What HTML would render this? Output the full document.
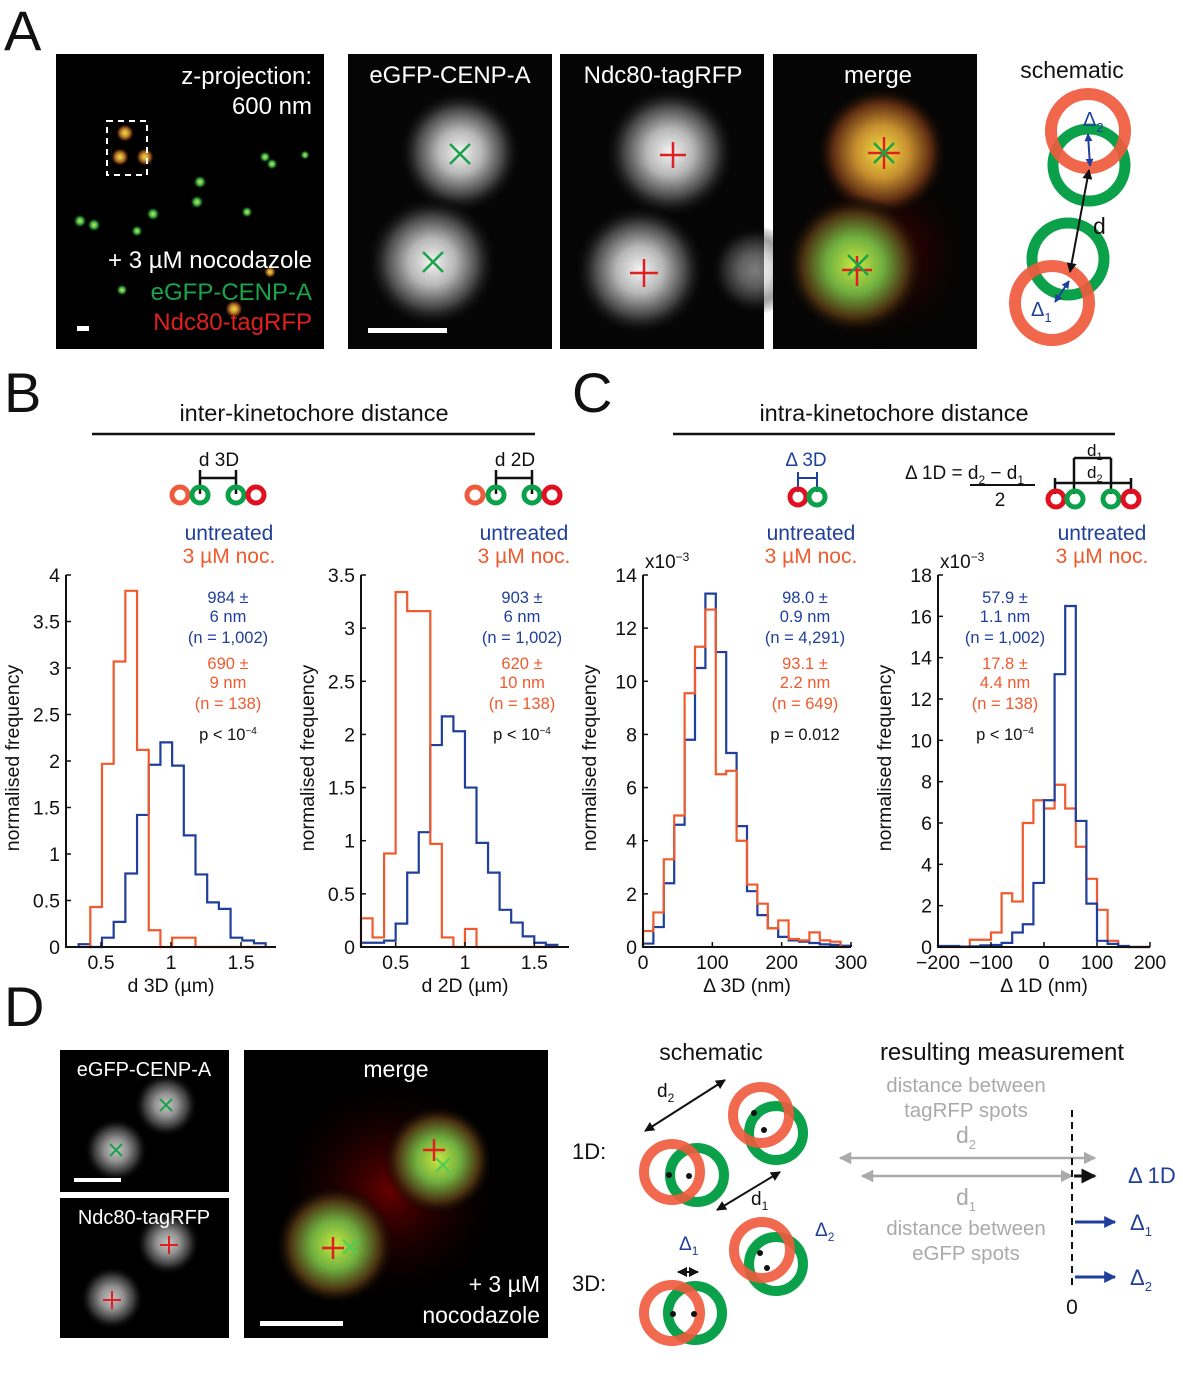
<!DOCTYPE html>
<html><head><meta charset="utf-8">
<style>
html,body{margin:0;padding:0;background:#fff;}
svg{display:block;font-family:"Liberation Sans",Arial,sans-serif;}
</style></head>
<body>
<svg id="fig" width="1183" height="1389" viewBox="0 0 1183 1389" xmlns="http://www.w3.org/2000/svg">
<defs>
<radialGradient id="gw" cx="50%" cy="50%" r="50%"><stop offset="0" stop-color="#f4f4f4"/><stop offset="0.35" stop-color="#b8b8b8"/><stop offset="0.7" stop-color="#444"/><stop offset="1" stop-color="#000" stop-opacity="0"/></radialGradient>
<radialGradient id="gy" cx="50%" cy="50%" r="50%"><stop offset="0" stop-color="#f0e040"/><stop offset="0.4" stop-color="#c89030"/><stop offset="0.75" stop-color="#5a2a10"/><stop offset="1" stop-color="#000" stop-opacity="0"/></radialGradient>
<radialGradient id="gg" cx="50%" cy="50%" r="50%"><stop offset="0" stop-color="#c8e840"/><stop offset="0.4" stop-color="#70b040"/><stop offset="0.75" stop-color="#4a3010"/><stop offset="1" stop-color="#000" stop-opacity="0"/></radialGradient>
<radialGradient id="gd" cx="50%" cy="50%" r="50%"><stop offset="0" stop-color="#d0f060"/><stop offset="0.5" stop-color="#30a040"/><stop offset="1" stop-color="#000" stop-opacity="0"/></radialGradient>
<radialGradient id="gr" cx="50%" cy="50%" r="50%"><stop offset="0" stop-color="#600"/><stop offset="1" stop-color="#000" stop-opacity="0"/></radialGradient>
<marker id="ak" viewBox="0 0 10 10" refX="9" refY="5" markerWidth="5" markerHeight="5" orient="auto-start-reverse"><path d="M0,0L10,5L0,10z" fill="#111"/></marker>
<marker id="ab" viewBox="0 0 10 10" refX="9" refY="5" markerWidth="4" markerHeight="4" orient="auto-start-reverse"><path d="M0,0L10,5L0,10z" fill="#1f3f9a"/></marker>
<marker id="ag" viewBox="0 0 10 10" refX="9" refY="5" markerWidth="5" markerHeight="5" orient="auto-start-reverse"><path d="M0,0L10,5L0,10z" fill="#aaa"/></marker>
</defs>

<!-- Panel A -->
<text x="4" y="50" font-size="56" fill="#111">A</text>
<g>
<rect x="56" y="54" width="268" height="295" fill="#000"/>
<circle cx="125" cy="133" r="9" fill="url(#gy)"/><circle cx="120" cy="157" r="9" fill="url(#gy)"/><circle cx="145" cy="157" r="9" fill="url(#gy)"/>
<circle cx="265" cy="157" r="6" fill="url(#gd)"/><circle cx="272" cy="164" r="6" fill="url(#gd)"/><circle cx="305" cy="155" r="5" fill="url(#gd)"/><circle cx="200" cy="182" r="7" fill="url(#gd)"/><circle cx="197" cy="202" r="7" fill="url(#gd)"/><circle cx="153" cy="214" r="7" fill="url(#gd)"/><circle cx="80" cy="221" r="7" fill="url(#gd)"/><circle cx="94" cy="225" r="7" fill="url(#gd)"/><circle cx="137" cy="231" r="6" fill="url(#gd)"/><circle cx="247" cy="212" r="6" fill="url(#gd)"/><circle cx="122" cy="290" r="6" fill="url(#gd)"/><circle cx="234" cy="309" r="9" fill="url(#gy)"/><circle cx="270" cy="272" r="6" fill="url(#gy)"/>
<rect x="107" y="121" width="40" height="54" fill="none" stroke="#fff" stroke-width="2" stroke-dasharray="6,5"/>
<rect x="77" y="326" width="12" height="5" fill="#fff"/>
<g font-size="24" text-anchor="end">
<text x="312" y="84" fill="#fff">z-projection:</text>
<text x="312" y="114" fill="#fff">600 nm</text>
<text x="312" y="268" fill="#fff">+ 3 µM nocodazole</text>
<text x="312" y="300" fill="#1aa34a">eGFP-CENP-A</text>
<text x="312" y="330" fill="#e02020">Ndc80-tagRFP</text>
</g>
</g>
<g>
<rect x="348" y="54" width="204" height="295" fill="#050505"/>
<circle cx="460" cy="152" r="62" fill="url(#gw)"/><circle cx="432" cy="262" r="66" fill="url(#gw)"/>
<path d="M450,144l20,20M470,144l-20,20M423,252l20,20M443,252l-20,20" stroke="#1aa34a" stroke-width="2.5"/>
<rect x="368" y="328" width="79" height="5" fill="#fff"/>
<text x="450" y="83" font-size="24" fill="#fff" text-anchor="middle">eGFP-CENP-A</text>
</g>
<g>
<rect x="560" y="54" width="204" height="295" fill="#050505"/>
<circle cx="670" cy="152" r="66" fill="url(#gw)"/><circle cx="640" cy="270" r="66" fill="url(#gw)"/><circle cx="755" cy="270" r="45" fill="url(#gw)" opacity="0.5"/>
<path d="M660,155h26M673,142v26M630,273h28M644,259v28" stroke="#e02020" stroke-width="2.5"/>
<text x="663" y="83" font-size="24" fill="#fff" text-anchor="middle">Ndc80-tagRFP</text>
</g>
<g>
<rect x="773" y="54" width="204" height="295" fill="#050505"/>
<circle cx="880" cy="255" r="95" fill="url(#gr)"/>
<circle cx="882" cy="152" r="66" fill="url(#gy)"/><circle cx="855" cy="265" r="70" fill="url(#gg)"/>
<path d="M868,153h32M884,137v32M842,270h30M857,256v30" stroke="#e02020" stroke-width="2.5"/>
<path d="M874,143l20,20M894,143l-20,20M848,255l20,20M868,255l-20,20" stroke="#1aa34a" stroke-width="2.5"/>
<text x="878" y="83" font-size="24" fill="#fff" text-anchor="middle">merge</text>
</g>
<g>
<text x="1072" y="78" font-size="23" fill="#111" text-anchor="middle">schematic</text>
<circle cx="1089" cy="165" r="36" fill="none" stroke="#0aa14a" stroke-width="11"/>
<circle cx="1068" cy="259" r="36" fill="none" stroke="#0aa14a" stroke-width="11"/>
<circle cx="1088" cy="131" r="37" fill="none" stroke="#ef5a3c" stroke-width="12" opacity="0.92"/>
<circle cx="1052" cy="303" r="37" fill="none" stroke="#ef5a3c" stroke-width="12" opacity="0.92"/>
<line x1="1089" y1="170" x2="1070" y2="272" stroke="#111" stroke-width="2" marker-start="url(#ak)" marker-end="url(#ak)"/>
<line x1="1088" y1="134" x2="1090" y2="166" stroke="#1f3f9a" stroke-width="2" marker-start="url(#ab)" marker-end="url(#ab)"/>
<line x1="1055" y1="302" x2="1069" y2="281" stroke="#1f3f9a" stroke-width="2" marker-start="url(#ab)" marker-end="url(#ab)"/>
<text x="1083" y="126" font-size="20" fill="#1f3f9a">Δ<tspan font-size="13" dy="6">2</tspan></text>
<text x="1031" y="316" font-size="20" fill="#1f3f9a">Δ<tspan font-size="13" dy="6">1</tspan></text>
<text x="1093" y="234" font-size="23" fill="#111">d</text>
</g>

<!-- Panel B / C headers -->
<text x="4" y="412" font-size="56" fill="#111">B</text>
<text x="572" y="412" font-size="56" fill="#111">C</text>
<text x="314" y="421" font-size="23.5" fill="#111" text-anchor="middle">inter-kinetochore distance</text>
<line x1="92" y1="434" x2="535" y2="434" stroke="#111" stroke-width="2.5"/>
<text x="894" y="421" font-size="23.5" fill="#111" text-anchor="middle">intra-kinetochore distance</text>
<line x1="673" y1="434" x2="1115" y2="434" stroke="#111" stroke-width="2.5"/>

<g>
<text x="219" y="466" font-size="19" fill="#111" text-anchor="middle">d 3D</text>
<path d="M200,478h36M200,470v24M236,470v24" stroke="#111" stroke-width="2.5" fill="none"/>
<circle cx="180" cy="495" r="8" fill="none" stroke="#ef5a3c" stroke-width="5"/><circle cx="200" cy="495" r="8" fill="none" stroke="#0aa14a" stroke-width="5"/><circle cx="236" cy="495" r="8" fill="none" stroke="#0aa14a" stroke-width="5"/><circle cx="256" cy="495" r="8" fill="none" stroke="#e01020" stroke-width="5"/>
</g>
<g>
<text x="515" y="466" font-size="19" fill="#111" text-anchor="middle">d 2D</text>
<path d="M496,478h36M496,470v24M532,470v24" stroke="#111" stroke-width="2.5" fill="none"/>
<circle cx="475" cy="495" r="8" fill="none" stroke="#ef5a3c" stroke-width="5"/><circle cx="496" cy="495" r="8" fill="none" stroke="#0aa14a" stroke-width="5"/><circle cx="532" cy="495" r="8" fill="none" stroke="#0aa14a" stroke-width="5"/><circle cx="552" cy="495" r="8" fill="none" stroke="#e01020" stroke-width="5"/>
</g>
<g>
<text x="806" y="466" font-size="19" fill="#1f3f9a" text-anchor="middle">Δ 3D</text>
<path d="M798,478h19M798,472v20M817,472v20" stroke="#1f3f9a" stroke-width="2" fill="none"/>
<circle cx="798" cy="497" r="8" fill="none" stroke="#e01020" stroke-width="5"/><circle cx="817" cy="497" r="8" fill="none" stroke="#0aa14a" stroke-width="5"/>
</g>
<g>
<text x="905" y="479" font-size="19" fill="#111">Δ 1D = d<tspan font-size="12" dy="5">2</tspan><tspan dy="-5"> − d</tspan><tspan font-size="12" dy="5">1</tspan></text>
<line x1="970" y1="485" x2="1035" y2="485" stroke="#111" stroke-width="2"/>
<text x="1000" y="506" font-size="19" fill="#111" text-anchor="middle">2</text>
<text x="1087" y="456" font-size="17" fill="#111">d<tspan font-size="11" dy="4">1</tspan></text>
<text x="1087" y="478" font-size="17" fill="#111">d<tspan font-size="11" dy="4">2</tspan></text>
<path d="M1074,458h37M1074,458v36M1111,458v36M1055,483h76M1055,478v16M1131,478v16" stroke="#111" stroke-width="2.5" fill="none"/>
<circle cx="1056" cy="499" r="8" fill="none" stroke="#e01020" stroke-width="5"/><circle cx="1075" cy="499" r="8" fill="none" stroke="#0aa14a" stroke-width="5"/><circle cx="1111" cy="499" r="8" fill="none" stroke="#0aa14a" stroke-width="5"/><circle cx="1131" cy="499" r="8" fill="none" stroke="#e01020" stroke-width="5"/>
</g>
<g font-size="21" text-anchor="middle">
<text x="229" y="540" fill="#1f3f9a">untreated</text><text x="229" y="563" fill="#ef5a2e">3 µM noc.</text>
<text x="524" y="540" fill="#1f3f9a">untreated</text><text x="524" y="563" fill="#ef5a2e">3 µM noc.</text>
<text x="811" y="540" fill="#1f3f9a">untreated</text><text x="811" y="563" fill="#ef5a2e">3 µM noc.</text>
<text x="1102" y="540" fill="#1f3f9a">untreated</text><text x="1102" y="563" fill="#ef5a2e">3 µM noc.</text>
</g>
<g id="charts"></g>

<!-- Panel D -->
<text x="4" y="1026" font-size="56" fill="#111">D</text>
<g>
<rect x="60" y="1050" width="169" height="142" fill="#000"/>
<circle cx="166" cy="1105" r="32" fill="url(#gw)" opacity="0.8"/><circle cx="116" cy="1150" r="32" fill="url(#gw)" opacity="0.8"/>
<path d="M160,1099l12,12M172,1099l-12,12M110,1144l12,12M122,1144l-12,12" stroke="#1aa34a" stroke-width="2"/>
<rect x="74" y="1178" width="47" height="4" fill="#fff"/>
<text x="144" y="1076" font-size="20" fill="#fff" text-anchor="middle">eGFP-CENP-A</text>
</g>
<g>
<rect x="60" y="1198" width="169" height="140" fill="#000"/>
<circle cx="168" cy="1243" r="32" fill="url(#gw)" opacity="0.8"/><circle cx="112" cy="1298" r="32" fill="url(#gw)" opacity="0.8"/>
<path d="M160,1245h18M169,1236v18M103,1300h18M112,1291v18" stroke="#e02020" stroke-width="2"/>
<text x="144" y="1224" font-size="20" fill="#fff" text-anchor="middle">Ndc80-tagRFP</text>
</g>
<g>
<rect x="244" y="1050" width="304" height="288" fill="#000"/>
<circle cx="390" cy="1190" r="120" fill="url(#gr)"/>
<circle cx="438" cy="1160" r="55" fill="url(#gg)"/><circle cx="335" cy="1245" r="60" fill="url(#gg)"/>
<path d="M423,1150h22M434,1139v22M322,1248h22M333,1237v22" stroke="#e02020" stroke-width="2.5"/>
<path d="M436,1158l14,14M450,1158l-14,14M343,1240l14,14M357,1240l-14,14" stroke="#5c5" stroke-width="2.5"/>
<rect x="260" y="1321" width="83" height="5" fill="#fff"/>
<text x="396" y="1077" font-size="23" fill="#fff" text-anchor="middle">merge</text>
<text x="540" y="1292" font-size="23" fill="#fff" text-anchor="end">+ 3 µM</text>
<text x="540" y="1323" font-size="23" fill="#fff" text-anchor="end">nocodazole</text>
</g>
<g>
<text x="711" y="1060" font-size="23" fill="#111" text-anchor="middle">schematic</text>
<text x="572" y="1159" font-size="22" fill="#111">1D:</text>
<text x="572" y="1291" font-size="22" fill="#111">3D:</text>
<g fill="none">
<circle cx="697" cy="1175" r="27" stroke="#0aa14a" stroke-width="10"/><circle cx="672" cy="1172" r="28" stroke="#ef5a3c" stroke-width="10" opacity="0.9"/>
<circle cx="776" cy="1133" r="27" stroke="#0aa14a" stroke-width="10"/><circle cx="761" cy="1115" r="28" stroke="#ef5a3c" stroke-width="10" opacity="0.9"/>
<circle cx="695" cy="1313" r="27" stroke="#0aa14a" stroke-width="10"/><circle cx="672" cy="1313" r="28" stroke="#ef5a3c" stroke-width="10" opacity="0.9"/>
<circle cx="776" cy="1264" r="27" stroke="#0aa14a" stroke-width="10"/><circle cx="762" cy="1250" r="28" stroke="#ef5a3c" stroke-width="10" opacity="0.9"/>
</g>
<g fill="#111"><circle cx="669" cy="1175" r="3"/><circle cx="689" cy="1176" r="3"/><circle cx="754" cy="1113" r="3"/><circle cx="764" cy="1130" r="3"/><circle cx="673" cy="1314" r="3"/><circle cx="694" cy="1314" r="3"/><circle cx="760" cy="1253" r="3"/><circle cx="767" cy="1268" r="3"/></g>
<line x1="645" y1="1131" x2="725" y2="1080" stroke="#111" stroke-width="2" marker-start="url(#ak)" marker-end="url(#ak)"/>
<line x1="717" y1="1210" x2="780" y2="1172" stroke="#111" stroke-width="2" marker-start="url(#ak)" marker-end="url(#ak)"/>
<line x1="678" y1="1272" x2="698" y2="1272" stroke="#111" stroke-width="2" marker-start="url(#ak)" marker-end="url(#ak)"/>
<text x="657" y="1097" font-size="19" fill="#111">d<tspan font-size="12" dy="5">2</tspan></text>
<text x="751" y="1205" font-size="19" fill="#111">d<tspan font-size="12" dy="5">1</tspan></text>
<text x="679" y="1250" font-size="19" fill="#1f3f9a">Δ<tspan font-size="12" dy="5">1</tspan></text>
<text x="815" y="1236" font-size="19" fill="#1f3f9a">Δ<tspan font-size="12" dy="5">2</tspan></text>
</g>
<g>
<text x="1002" y="1060" font-size="24" fill="#111" text-anchor="middle">resulting measurement</text>
<g font-size="20.5" fill="#aaa" text-anchor="middle">
<text x="966" y="1092">distance between</text><text x="966" y="1117">tagRFP spots</text>
<text x="966" y="1143" font-size="23">d<tspan font-size="13" dy="6">2</tspan></text>
<text x="966" y="1205" font-size="23">d<tspan font-size="13" dy="6">1</tspan></text>
<text x="966" y="1235">distance between</text><text x="966" y="1260">eGFP spots</text>
</g>
<line x1="840" y1="1158" x2="1095" y2="1158" stroke="#aaa" stroke-width="2.5" marker-start="url(#ag)" marker-end="url(#ag)"/>
<line x1="862" y1="1176" x2="1072" y2="1176" stroke="#aaa" stroke-width="2.5" marker-start="url(#ag)" marker-end="url(#ag)"/>
<line x1="1072" y1="1110" x2="1072" y2="1290" stroke="#111" stroke-width="2" stroke-dasharray="7,5"/>
<line x1="1074" y1="1176" x2="1095" y2="1176" stroke="#111" stroke-width="3" marker-end="url(#ak)"/>
<line x1="1075" y1="1222" x2="1115" y2="1222" stroke="#1f3f9a" stroke-width="3" marker-end="url(#ab)"/>
<line x1="1075" y1="1277" x2="1115" y2="1277" stroke="#1f3f9a" stroke-width="3" marker-end="url(#ab)"/>
<text x="1072" y="1314" font-size="21" fill="#111" text-anchor="middle">0</text>
<text x="1128" y="1183" font-size="22" fill="#1f3f9a">Δ 1D</text>
<text x="1130" y="1230" font-size="22" fill="#1f3f9a">Δ<tspan font-size="13" dy="6">1</tspan></text>
<text x="1130" y="1285" font-size="22" fill="#1f3f9a">Δ<tspan font-size="13" dy="6">2</tspan></text>
</g>
</svg>
<script>
// ---- chart data ----
const d3dBinStart = 0.34, d3dBinWidth = 0.0835;
const d3dUntreated = [0.03,0,0.1,0.27,0.79,1.42,1.96,2.2,1.95,1.2,0.78,0.48,0.41,0.1,0.07,0.04];
const d3dNoc = [0,0.43,1.97,3.07,3.83,2.12,0.18,0,0.1,0.1,0,0,0,0,0,0];
const d3dXTicks = [0.5,1,1.5], d3dYTicks = [0,0.5,1,1.5,2,2.5,3,3.5,4];
const d3dYLabels = ["0","0.5","1","1.5","2","2.5","3","3.5","4"];

const d2dBinStart = 0.25, d2dBinWidth = 0.0833;
const d2dUntreated = [0.04,0.04,0.06,0.22,0.7,1.08,1.9,2.17,2.03,1.5,0.98,0.7,0.35,0.23,0.1,0.04,0.02];
const d2dNoc = [0.27,0.09,0.88,3.34,3.16,3.16,0.97,0.09,0,0.17,0,0,0,0,0,0,0];
const d2dXTicks = [0.5,1,1.5], d2dYTicks = [0,0.5,1,1.5,2,2.5,3,3.5];
const d2dYLabels = ["0","0.5","1","1.5","2","2.5","3","3.5"];

const del3dBinStart = 0, del3dBinWidth = 15;
const del3dUntreated = [0.13,0.75,2.4,4.6,7.8,10.5,13.3,11.1,7.3,4.55,2.1,1.2,0.7,0.38,0.25,0.2,0.15,0.1,0.08,0.05];
const del3dNoc = [0.6,1.3,3.3,4.95,9.55,11.3,12.7,6.5,6.63,4.0,2.35,1.63,0.7,1.0,0.3,0.25,0.55,0.25,0.2,0];
const del3dXTicks = [0,100,200,300], del3dYTicks = [0,2,4,6,8,10,12,14];

const del1dBinStart = -200, del1dBinWidth = 20;
const del1dUntreated = [0.05,0.05,0.02,0.03,0.08,0.1,0.2,0.7,1.1,3.1,7.1,13.2,16.5,6.1,2.1,0.3,0.15,0.05,0,0];
const del1dNoc = [0,0,0,0.35,0.35,0.7,2.6,2.2,6.0,7.1,6.7,7.85,6.7,4.85,3.3,1.8,0.3,0,0,0];
const del1dXTicks = [-200,-100,0,100,200], del1dYTicks = [0,2,4,6,8,10,12,14,16,18];
const del1dXLabels = ["−200","−100","0","100","200"];

const NS = "http://www.w3.org/2000/svg";
const root = document.getElementById("charts");
function mk(tag, attrs, parent, text){
  const e = document.createElementNS(NS, tag);
  for (const k in attrs) e.setAttribute(k, attrs[k]);
  if (text !== undefined) e.textContent = text;
  (parent||root).appendChild(e); return e;
}
const BLUE = "#1f3f9a", ORANGE = "#ef5a2e";

function chart(cfg){
  const g = mk("g", {});
  
  
  const sx = v => cfg.px0 + (v - cfg.x0) / (cfg.x1 - cfg.x0) * (cfg.px1 - cfg.px0);
  const sy = v => cfg.py0 - v / cfg.ymax * (cfg.py0 - cfg.py1);
  function hist(vals, start, w, color, nm){
    let d = "M" + sx(start) + "," + sy(0);
    vals.forEach((v,i) => {
      const a = sx(start + i*w), b = sx(start + (i+1)*w);
      d += "L" + a + "," + sy(v) + "L" + b + "," + sy(v);
    });
    d += "L" + sx(start + vals.length*w) + "," + sy(0);
    const p = mk("path", {d: d, fill: "none", stroke: color, "stroke-width": 2.2}, g);
    
    
  }
  cfg.series.forEach(s => hist(s.vals, cfg.binStart, cfg.binWidth, s.color, s.name));
  mk("path", {d: "M" + cfg.px0 + "," + cfg.py1 + "V" + cfg.py0 + "H" + cfg.px1, fill: "none", stroke: "#111", "stroke-width": 2}, g);
  cfg.yTicks.forEach((t,i) => {
    mk("line", {x1: cfg.px0, x2: cfg.px0 + 5, y1: sy(t), y2: sy(t), stroke: "#111", "stroke-width": 1.5}, g);
    const lab = mk("text", {x: cfg.px0 - 6, y: sy(t) + 7, "font-size": 19.5, "text-anchor": "end", fill: "#111"}, g, cfg.yLabels ? cfg.yLabels[i] : String(t));
    
    
  });
  cfg.xTicks.forEach((t,i) => {
    mk("line", {x1: sx(t), x2: sx(t), y1: cfg.py0, y2: cfg.py0 - 5, stroke: "#111", "stroke-width": 1.5}, g);
    const lab = mk("text", {x: sx(t), y: cfg.py0 + 22, "font-size": 19.5, "text-anchor": "middle", fill: "#111"}, g, cfg.xLabels ? cfg.xLabels[i] : String(t));
    
    
  });
  const xt = mk("text", {x: (cfg.px0 + cfg.px1)/2, y: cfg.py0 + 45, "font-size": 19.5, "text-anchor": "middle", fill: "#111"}, g, cfg.xTitle);
  
  
  const yx = cfg.px0 - 47;
  const yt = mk("text", {x: yx, y: 758, "font-size": 19.5, "text-anchor": "middle", fill: "#111", transform: "rotate(-90 " + yx + " 758)"}, g, "normalised frequency");
  
  
  if (cfg.scale) {
    const sc = mk("text", {x: cfg.px0 + 2, y: 568, "font-size": 19, fill: "#111"}, g, "x10");
    mk("tspan", {"font-size": 12, dy: -7}, sc, "−3");
  }
  const ann = mk("g", {"font-size": 16.5, "text-anchor": "middle"}, g);
  
  
  const ys = [603, 622, 643, 669, 688, 709];
  cfg.ann.forEach((t,i) => mk("text", {x: cfg.ax, y: ys[i], fill: i < 3 ? BLUE : ORANGE}, ann, t));
  const pt = mk("text", {x: cfg.ax, y: 740, fill: "#111"}, ann, cfg.p);
  if (cfg.pexp) mk("tspan", {"font-size": 10, dy: -6}, pt, cfg.pexp);
}

chart({name:"histogram-d3d", x0:0.25, x1:1.75, px0:66, px1:276, py0:947, py1:575, ymax:4,
  binStart:d3dBinStart, binWidth:d3dBinWidth, xTicks:d3dXTicks, yTicks:d3dYTicks, yLabels:d3dYLabels,
  xTitle:"d 3D (µm)", ax:228, ann:["984 ±","6 nm","(n = 1,002)","690 ±","9 nm","(n = 138)"], p:"p < 10", pexp:"−4",
  series:[{vals:d3dUntreated,color:BLUE,name:"series-untreated"},{vals:d3dNoc,color:ORANGE,name:"series-nocodazole"}]});
chart({name:"histogram-d2d", x0:0.25, x1:1.75, px0:361, px1:569, py0:947, py1:575, ymax:3.5,
  binStart:d2dBinStart, binWidth:d2dBinWidth, xTicks:d2dXTicks, yTicks:d2dYTicks, yLabels:d2dYLabels,
  xTitle:"d 2D (µm)", ax:522, ann:["903 ±","6 nm","(n = 1,002)","620 ±","10 nm","(n = 138)"], p:"p < 10", pexp:"−4",
  series:[{vals:d2dUntreated,color:BLUE,name:"series-untreated"},{vals:d2dNoc,color:ORANGE,name:"series-nocodazole"}]});
chart({name:"histogram-delta3d", x0:0, x1:300, px0:643, px1:851, py0:947, py1:575, ymax:14, scale:true,
  binStart:del3dBinStart, binWidth:del3dBinWidth, xTicks:del3dXTicks, yTicks:del3dYTicks,
  xTitle:"Δ 3D (nm)", ax:805, ann:["98.0 ±","0.9 nm","(n = 4,291)","93.1 ±","2.2 nm","(n = 649)"], p:"p = 0.012",
  series:[{vals:del3dUntreated,color:BLUE,name:"series-untreated"},{vals:del3dNoc,color:ORANGE,name:"series-nocodazole"}]});
chart({name:"histogram-delta1d", x0:-200, x1:200, px0:938, px1:1150, py0:947, py1:575, ymax:18, scale:true,
  binStart:del1dBinStart, binWidth:del1dBinWidth, xTicks:del1dXTicks, xLabels:del1dXLabels, yTicks:del1dYTicks,
  xTitle:"Δ 1D (nm)", ax:1005, ann:["57.9 ±","1.1 nm","(n = 1,002)","17.8 ±","4.4 nm","(n = 138)"], p:"p < 10", pexp:"−4",
  series:[{vals:del1dNoc,color:ORANGE,name:"series-nocodazole"},{vals:del1dUntreated,color:BLUE,name:"series-untreated"}]});
</script>
</body></html>
